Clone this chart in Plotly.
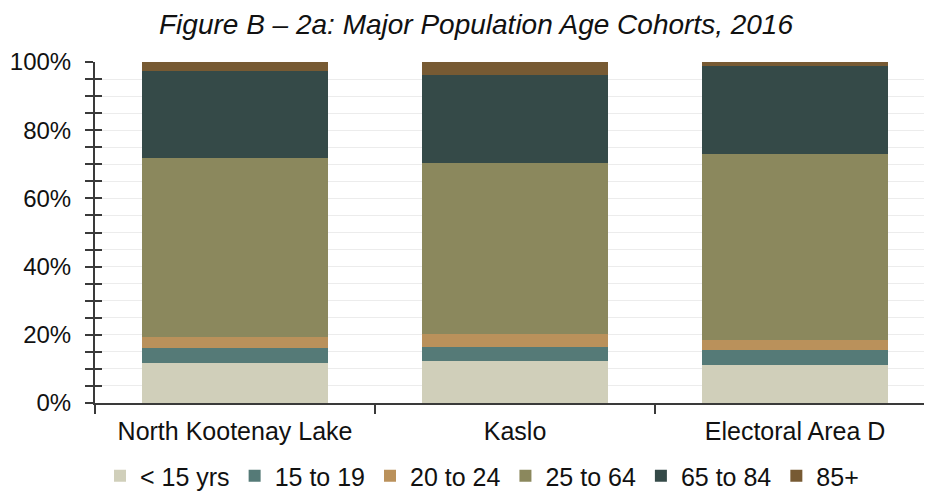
import plotly.graph_objects as go

categories = ["North Kootenay Lake", "Kaslo", "Electoral Area D"]
series_names = ["< 15 yrs", "15 to 19", "20 to 24", "25 to 64", "65 to 84", "85+"]
under_15 = [11.7, 12.4, 11.2]
age_15_19 = [4.3, 4.0, 4.4]
age_20_24 = [3.3, 3.7, 2.9]
age_25_64 = [52.6, 50.3, 54.6]
age_65_84 = [25.5, 25.8, 25.6]
age_85_plus = [2.6, 3.8, 1.3]
y_tick_vals = [0, 20, 40, 60, 80, 100]
y_tick_text = ["0%", "20%", "40%", "60%", "80%", "100%"]

colors = ["#D0CFBA", "#557A77", "#BA915B", "#8B885D", "#354A48", "#775A33"]
series_values = [under_15, age_15_19, age_20_24, age_25_64, age_65_84, age_85_plus]

FONT = "Liberation Sans, Arial, sans-serif"
AXC = "#3a3a3a"
W, H = 924, 483  # page body adds an 8px margin

fig = go.Figure()
for name, vals, col in zip(series_names, series_values, colors):
    fig.add_trace(go.Bar(
        x=categories, y=vals, name=name,
        marker=dict(color=col, line=dict(width=0)),
    ))

# invisible helper trace so the inner-tick overlay axis is rendered
fig.add_trace(go.Scatter(
    x=categories, y=under_15, yaxis="y2", mode="markers",
    marker=dict(opacity=0), showlegend=False, hoverinfo="skip",
))

fig.update_layout(
    width=W, height=H,
    margin=dict(l=87, r=0, t=54, b=88),
    paper_bgcolor="white", plot_bgcolor="white",
    barmode="stack", bargap=0.336,
    font=dict(family=FONT, size=25, color="#111"),
    title=dict(
        text="Figure B – 2a: Major Population Age Cohorts, 2016",
        font=dict(family=FONT, size=28, color="#111", style="italic"),
        x=468 / W, xanchor="center", xref="container",
        y=1 - 16 / H, yanchor="middle", yref="container",
    ),
    xaxis=dict(
        type="category", range=[-0.5, 2.489],
        showline=True, linecolor=AXC, linewidth=2,
        ticks="outside", tickson="boundaries", ticklen=9, tickwidth=2, tickcolor=AXC,
        tickfont=dict(family=FONT, size=25, color="#111"),
        showgrid=False, zeroline=False, ticklabelstandoff=5,
    ),
    yaxis=dict(
        range=[0, 100], tickvals=y_tick_vals, ticktext=y_tick_text,
        showline=True, linecolor=AXC, linewidth=2,
        ticks="outside", ticklen=8, tickwidth=2, tickcolor=AXC,
        tickfont=dict(family=FONT, size=24, color="#111"),
        showgrid=True, gridcolor="#ECECEC", gridwidth=1,
        zeroline=False,
        minor=dict(dtick=5, ticks="outside", ticklen=8, tickwidth=2, tickcolor=AXC,
                   showgrid=True, gridcolor="#ECECEC", gridwidth=1),
        ticklabelstandoff=9,
    ),
    yaxis2=dict(
        range=[0, 100], overlaying="y", anchor="x", side="left",
        tickvals=y_tick_vals, showticklabels=False,
        ticks="inside", ticklen=7, tickwidth=2, tickcolor=AXC,
        showgrid=False, zeroline=False, showline=False,
        minor=dict(dtick=5, ticks="inside", ticklen=7, tickwidth=2, tickcolor=AXC, showgrid=False),
    ),
    legend=dict(
        orientation="h", xref="container", yref="container",
        x=474 / W, xanchor="center", y=(H - 468) / H, yanchor="middle",
        font=dict(family=FONT, size=25, color="#111"),
        itemwidth=30, traceorder="normal", bgcolor="rgba(0,0,0,0)",
    ),
    showlegend=True,
)

fig.write_html("out.html")
